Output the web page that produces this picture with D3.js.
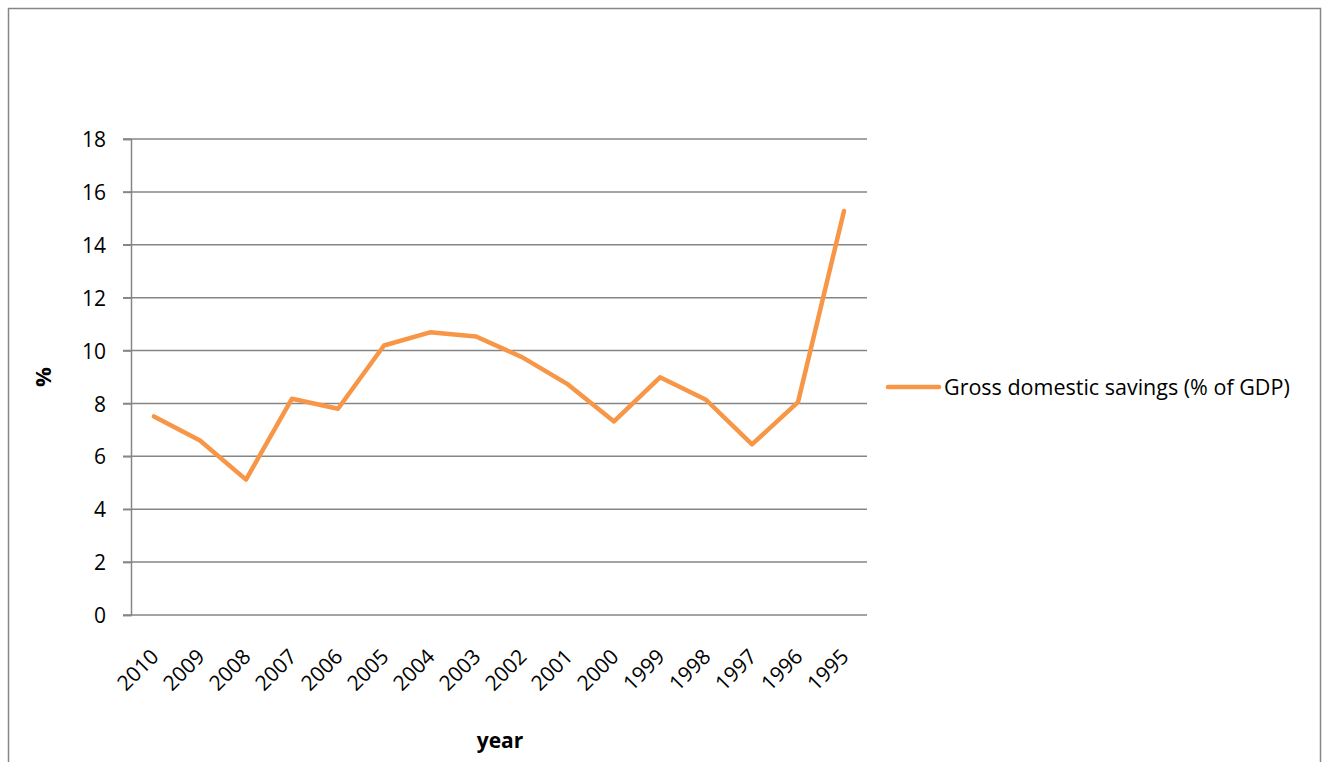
<!DOCTYPE html>
<html><head><meta charset="utf-8">
<script src="https://cdn.jsdelivr.net/npm/d3@7"></script>
<style>
html,body{margin:0;padding:0;background:#fff;}
text{font-family:"Open Sans",sans-serif;fill:#000;}
</style></head>
<body><svg id="c" width="1326" height="762"></svg>
<script>
const years = ["2010","2009","2008","2007","2006","2005","2004","2003","2002","2001","2000","1999","1998","1997","1996","1995"];
const savings = [7.51,6.6,5.12,8.18,7.8,10.19,10.69,10.53,9.75,8.72,7.32,8.99,8.14,6.45,8.05,15.28];
const yTicks = [0,2,4,6,8,10,12,14,16,18];
const seriesName = "Gross domestic savings (% of GDP)";

const FONT = "'Open Sans',sans-serif";
const svg = d3.select("#c");
svg.append("rect").attr("x",8.5).attr("y",8.5).attr("width",1312).attr("height",780)
  .attr("fill","none").attr("stroke","#868686").attr("stroke-width",1.5);

const L=131, R=867, T=139, B=615;
const x = d3.scaleBand().domain(years).range([L,R]);
const y = d3.scaleLinear().domain([0,18]).range([B,T]);

// gridlines
svg.append("g").selectAll("line").data(yTicks).join("line")
  .attr("x1",L-8).attr("x2",R).attr("y1",d=>y(d)).attr("y2",d=>y(d))
  .attr("stroke","#868686").attr("stroke-width",1.5);

// y axis
const ya = svg.append("g").attr("transform",`translate(${L},0)`)
  .call(d3.axisLeft(y).tickValues(yTicks).tickSize(8).tickPadding(17));
ya.select(".domain").attr("stroke","#868686").attr("stroke-width",1.5);
ya.selectAll(".tick line").attr("stroke","#868686").attr("stroke-width",1.5);
ya.selectAll("text").style("font-size","21px").style("font-family",FONT).attr("dy","0.36em");

// x axis
const xa = svg.append("g").attr("transform",`translate(0,${B})`)
  .call(d3.axisBottom(x).tickSize(0).tickPadding(0));
xa.select(".domain").remove();
xa.selectAll("text").style("font-size","21px").style("font-family",FONT)
  .attr("text-anchor","end").attr("dy",null).attr("y",0)
  .attr("transform","translate(6,43) rotate(-45)");

// line
const line = d3.line().x((d,i)=>x(years[i])+x.bandwidth()/2).y(d=>y(d));
svg.append("path").datum(savings).attr("d",line).attr("fill","none")
  .attr("stroke","#F79646").attr("stroke-width",4.5).attr("stroke-linejoin","round").attr("stroke-linecap","round");

// axis titles
svg.append("text").attr("transform","translate(51,377) rotate(-90)").attr("text-anchor","middle")
  .style("font-size","22px").style("font-weight","bold").text("%");
svg.append("text").attr("x",500).attr("y",748).attr("text-anchor","middle")
  .style("font-size","21px").style("font-weight","bold").text("year");

// legend
svg.append("line").attr("x1",888).attr("x2",939).attr("y1",387).attr("y2",387)
  .attr("stroke","#F79646").attr("stroke-width",4.5).attr("stroke-linecap","round");
svg.append("text").attr("x",944).attr("y",395).style("font-size","21.5px").text(seriesName);
</script></body></html>
